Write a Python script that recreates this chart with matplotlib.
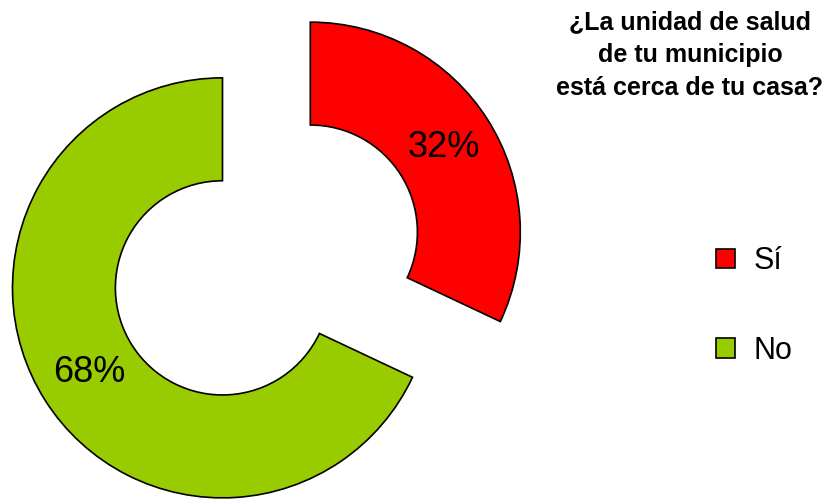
import matplotlib
matplotlib.use("Agg")
import matplotlib.pyplot as plt

categories = ["Sí", "No"]
values = [32, 68]
colors = ["#ff0000", "#99cc00"]
title = "¿La unidad de salud\nde tu municipio\nestá cerca de tu casa?"

plt.rcParams['font.family'] = ['Liberation Sans', 'DejaVu Sans']

W, H = 830, 499
fig = plt.figure(figsize=(W / 100, H / 100), dpi=100)
ax = fig.add_axes([0, 0, 1, 1])

R = 210
center = (266.4, H - 260)
wedges, texts, autotexts = ax.pie(
    values, colors=colors, startangle=90, counterclock=False,
    radius=R, center=center, explode=[52, 52],
    autopct='%1.0f%%', pctdistance=0.75,
    wedgeprops=dict(width=R * 0.49, edgecolor='black', linewidth=1.2),
    textprops=dict(fontsize=26, color='black'),
)
ax.set_xlim(0, W)
ax.set_ylim(0, H)
ax.set_aspect('equal')
ax.axis('off')

fig.text(690, H - 55, title, ha='center', va='center', fontsize=18,
         fontweight='bold', linespacing=1.45, transform=None)

leg = ax.legend(wedges, categories, loc='center left',
                bbox_to_anchor=(716 / W, (H - 306) / H),
                frameon=False, fontsize=22, handlelength=0.62,
                handleheight=0.62, labelspacing=1.95, handletextpad=0.6,
                borderaxespad=0, borderpad=0)
fig.savefig("out.png", dpi=100)
